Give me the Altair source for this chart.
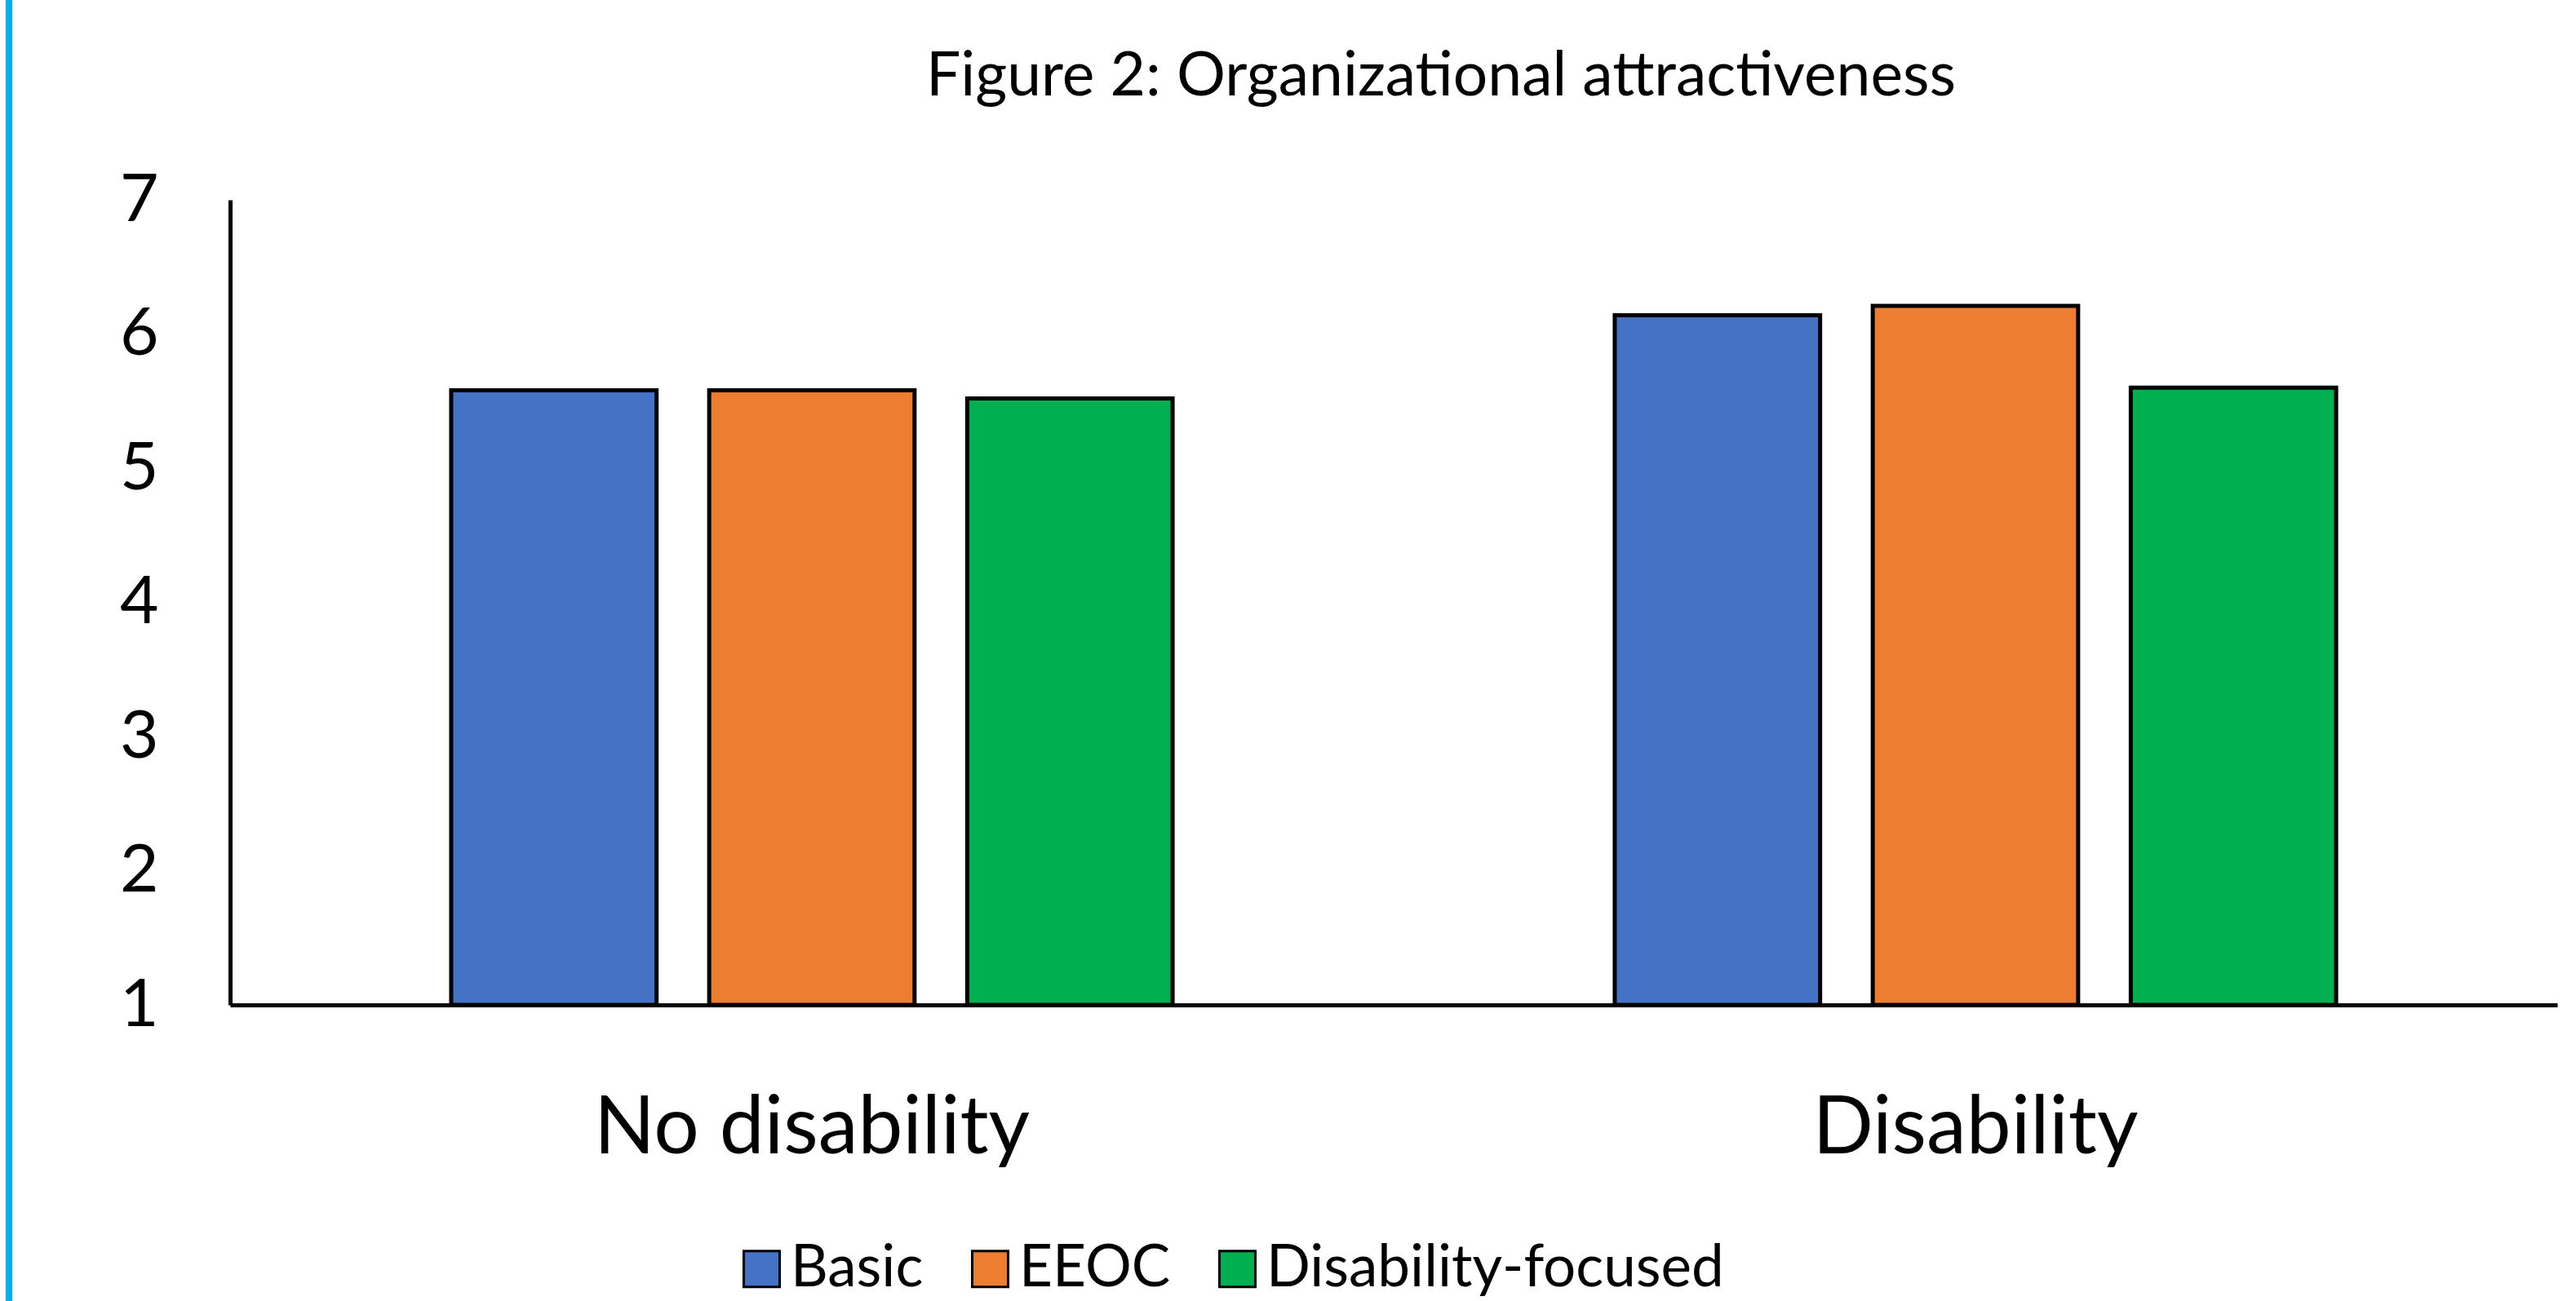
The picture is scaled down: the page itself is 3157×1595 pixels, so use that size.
import altair as alt
import pandas as pd

groups = ["No disability", "Disability"]
series = ["Basic", "EEOC", "Disability-focused"]
colors = ["#4472C4", "#ED7D31", "#00B050"]
no_disability = [5.58, 5.58, 5.52]
disability = [6.14, 6.21, 5.60]
y_ticks = [1, 2, 3, 4, 5, 6, 7]
title_text = ["Figure 2: Organizational attractiveness"]

rows = []
for g, vals in zip(groups, [no_disability, disability]):
    for s, v in zip(series, vals):
        rows.append({"group": g, "series": s, "value": v})
df = pd.DataFrame(rows)

FONT = "Lato"

bars = alt.Chart(df).mark_bar(stroke="black", strokeWidth=5).encode(
    x=alt.X("group:N", sort=groups, title=None,
            scale=alt.Scale(paddingInner=0.38, paddingOuter=0.19),
            axis=alt.Axis(labelAngle=0, labelFontSize=98, labelFont=FONT,
                          labelColor="black", labelPadding=104, labelLimit=0, ticks=False,
                          domainColor="black", domainWidth=5, grid=False)),
    xOffset=alt.XOffset("series:N", sort=series,
                        scale=alt.Scale(paddingInner=0.204, paddingOuter=0)),
    y=alt.Y("value:Q", title=None,
            scale=alt.Scale(domain=[1, 7], zero=False, nice=False),
            axis=alt.Axis(values=y_ticks, labelFontSize=82, labelFont=FONT,
                          labelColor="black", labelPadding=88, ticks=False,
                          domainColor="black", domainWidth=5, grid=False)),
    y2=alt.Y2(datum=1),
    color=alt.Color("series:N", sort=series,
                    scale=alt.Scale(domain=series, range=colors),
                    legend=alt.Legend(title=None, orient="none", direction="horizontal",
                                      legendX=616, legendY=1275,
                                      symbolType="square", symbolSize=1936,
                                      symbolStrokeColor="black", symbolStrokeWidth=3,
                                      symbolOpacity=1, labelLimit=0,
                                      labelFontSize=71, labelFont=FONT, labelColor="black",
                                      labelOffset=0, columnPadding=46)),
)

title = alt.Chart(pd.DataFrame({"t": title_text})).mark_text(
    font=FONT, fontSize=75, color="black", align="center", baseline="alphabetic"
).encode(text="t:N", x=alt.value(1484), y=alt.value(-128))

border = alt.Chart(df).mark_rule(color="#00B0F0", strokeWidth=7).encode(
    x=alt.value(-271), y=alt.value(-245), y2=alt.value(1350)
)

chart = alt.layer(bars, title, border).properties(
    width=2852, height=987,
    background="white",
    padding={"left": 282, "top": 245, "right": 23, "bottom": 363},
    autosize=alt.AutoSizeParams(type="none"),
).configure_view(stroke=None)

chart.save("out.html", embed_options={"renderer": "svg", "actions": False})
